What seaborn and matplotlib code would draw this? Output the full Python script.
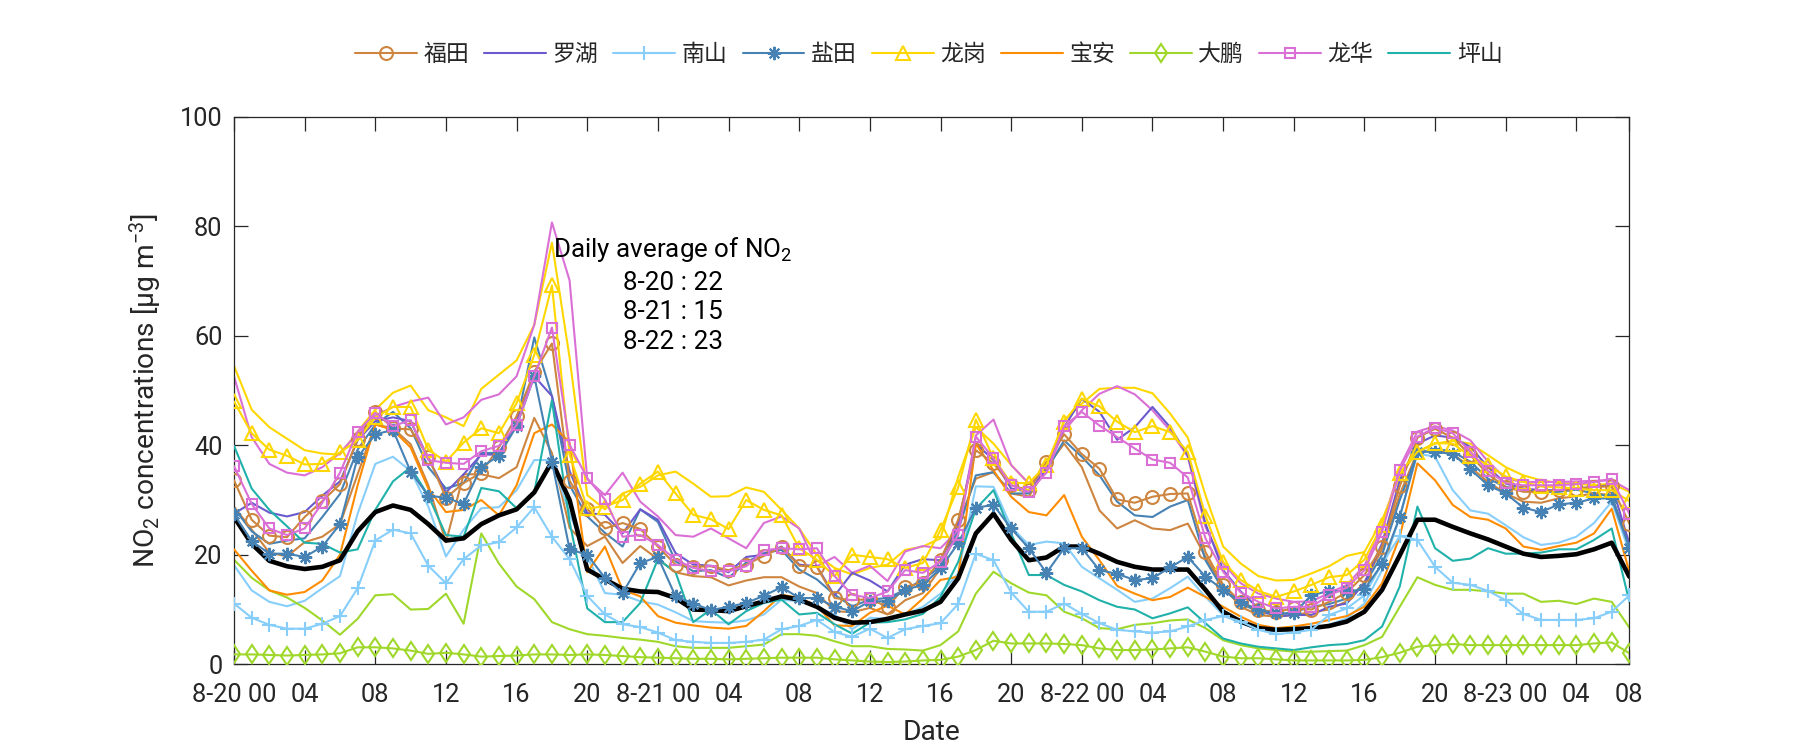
import numpy as np
import matplotlib
matplotlib.use("Agg")
import matplotlib.pyplot as plt
import seaborn as sns

# hourly NO2, 8-20 00 .. 8-23 07 (80 points)
hours = np.arange(80)

futian = [33.6, 26.4, 23.5, 23.2, 26.9, 29.8, 32.9, 41.2, 46.1, 43.1, 42.9, 37.9, 30.4, 33.1, 35.0, 39.6, 45.3, 53.4, 58.6, 33.5, 28.4,
          24.8, 25.8, 24.7, 21.5, 18.2, 17.8, 17.9, 17.2, 18.2, 19.8, 21.4, 18.0, 17.8, 12.1, 11.7, 11.9, 10.5, 14.2, 14.8,
          19.1, 26.4, 39.1, 36.7, 32.7, 31.8, 37.0, 42.0, 38.4, 35.7, 30.1, 29.5, 30.6, 31.1, 31.2, 20.5, 14.5, 11.4, 9.9, 9.6,
          10.2, 10.0, 11.4, 13.1, 16.3, 21.5, 32.5, 41.4, 43.0, 41.4, 38.2, 34.7, 32.4, 31.5, 31.5, 31.8, 32.1, 32.4, 32.5, 25.7]
futian_b = [28.8, 24.6, 20.4, 19.7, 22.3, 23.3, 25.6, 34.7, 43.8, 43.1, 40.2, 32.7, 22.3, 34.7, 34.7, 34.0, 36.0, 45.0, 38.6, 24.9, 21.6,
            23.3, 18.5, 21.6, 19.2, 16.8, 16.1, 15.9, 14.4, 15.3, 15.9, 15.9, 14.2, 13.0, 9.7, 9.5, 10.3, 9.1, 11.7, 13.0,
            17.5, 25.7, 33.9, 35.1, 31.2, 30.6, 36.0, 40.3, 36.0, 28.1, 24.8, 26.3, 24.8, 24.5, 25.7, 19.6, 14.2, 10.5, 9.0, 8.7,
            9.0, 9.5, 10.0, 11.5, 15.0, 21.0, 31.0, 38.8, 39.1, 38.4, 36.0, 33.3, 31.2, 29.7, 29.5, 30.3, 30.7, 31.2, 30.9, 20.9]
luohu = [27.5, 29.5, 27.7, 27.0, 27.8, 30.8, 33.4, 40.9, 44.4, 45.1, 44.4, 37.6, 31.4, 34.7, 38.3, 38.3, 44.4, 52.6, 49.0, 35.3, 27.6,
         27.3, 23.9, 28.3, 26.4, 20.3, 18.2, 18.0, 16.8, 19.6, 20.0, 21.5, 18.2, 17.9, 12.5, 16.7, 15.3, 13.3, 18.2, 19.2,
         19.0, 25.7, 40.3, 37.3, 32.1, 31.5, 35.7, 43.3, 48.5, 46.1, 41.0, 43.3, 47.0, 43.3, 38.2, 25.7, 17.2, 13.3, 10.2, 8.7,
         9.0, 9.0, 10.5, 11.1, 14.8, 22.1, 33.6, 40.3, 41.8, 41.4, 39.7, 36.0, 33.0, 32.1, 31.8, 31.8, 32.1, 32.4, 32.7, 22.0]
nanshan = [11.1, 8.5, 7.2, 6.5, 6.5, 7.4, 8.8, 13.9, 22.6, 24.6, 23.9, 18.0, 14.8, 19.2, 21.7, 22.3, 25.0, 28.7, 23.3, 19.2, 12.5,
           9.1, 7.3, 6.8, 5.8, 4.4, 4.1, 3.9, 3.9, 4.1, 4.5, 6.4, 7.0, 8.1, 5.9, 5.0, 6.5, 4.8, 6.4, 7.0,
           7.5, 11.0, 20.2, 19.0, 13.1, 9.6, 9.6, 11.1, 9.2, 7.5, 6.3, 6.0, 5.8, 6.0, 6.9, 8.1, 8.8, 7.8, 6.3, 5.5,
           5.8, 6.3, 9.0, 10.2, 12.6, 18.4, 23.4, 22.7, 17.8, 14.9, 14.5, 13.4, 11.7, 9.2, 8.1, 8.1, 8.1, 8.4, 9.6, 12.6]
nanshan_b = [18.1, 13.5, 11.4, 10.6, 11.6, 13.9, 16.1, 27.5, 36.6, 37.9, 35.3, 28.8, 19.7, 24.6, 28.5, 28.7, 31.8, 37.3, 37.3, 27.5, 19.7,
             13.0, 12.7, 11.5, 10.9, 9.5, 7.9, 7.7, 7.6, 8.0, 9.1, 11.8, 11.5, 10.5, 9.1, 6.4, 8.5, 8.3, 9.0, 10.5,
             12.9, 16.6, 32.5, 32.4, 25.1, 21.8, 22.4, 22.1, 17.8, 15.7, 13.6, 11.4, 12.0, 13.9, 16.0, 12.3, 9.0, 7.5, 6.3, 6.0,
             6.3, 6.3, 7.2, 8.4, 11.1, 17.2, 26.9, 38.5, 37.9, 31.8, 28.1, 27.5, 25.4, 23.2, 21.8, 22.2, 23.3, 25.8, 29.7, 20.5]
yantian = [27.4, 22.5, 20.2, 20.2, 19.6, 21.5, 25.6, 37.8, 42.0, 42.8, 35.2, 30.8, 30.4, 29.3, 36.0, 38.1, 43.5, 52.6, 37.0, 21.0, 20.0,
           15.8, 13.0, 18.5, 19.6, 12.4, 11.1, 9.9, 10.5, 11.2, 12.5, 14.1, 12.1, 12.1, 10.5, 9.7, 11.5, 11.5, 13.6, 14.5,
           17.5, 22.1, 28.6, 29.1, 24.8, 21.2, 16.7, 21.2, 21.2, 17.2, 16.5, 15.4, 15.7, 17.7, 19.6, 16.0, 13.6, 11.4, 9.9, 9.3,
           9.3, 12.6, 13.4, 13.3, 13.7, 18.3, 26.9, 38.8, 38.8, 38.4, 35.6, 32.7, 31.2, 28.6, 27.8, 29.2, 29.5, 30.3, 30.3, 21.3]
yantian_b = [28.5, 24.3, 22.0, 22.6, 23.0, 26.9, 31.1, 39.2, 43.8, 46.1, 43.1, 36.0, 32.1, 33.1, 38.6, 38.6, 43.8, 59.7, 49.0, 32.7, 27.0,
             24.0, 21.5, 28.3, 26.0, 18.8, 17.0, 17.2, 15.8, 18.6, 20.3, 20.9, 17.3, 15.5, 12.7, 10.6, 11.8, 12.1, 13.6, 15.5,
             17.8, 24.5, 34.5, 35.1, 31.2, 31.2, 35.4, 40.9, 37.9, 34.5, 29.7, 27.2, 26.9, 28.8, 30.0, 19.0, 13.6, 11.1, 9.6, 9.0,
             9.5, 10.5, 11.0, 12.0, 14.5, 20.0, 30.0, 38.5, 39.4, 38.8, 37.0, 33.9, 32.4, 31.8, 31.5, 31.5, 31.9, 31.2, 30.6, 22.0]
longgang = [48.0, 42.2, 39.2, 38.1, 36.5, 36.6, 38.7, 40.9, 45.1, 47.0, 47.0, 39.2, 37.0, 40.5, 43.1, 42.2, 47.7, 56.5, 69.2, 38.3, 28.5,
            28.8, 30.0, 33.0, 35.2, 31.2, 27.3, 26.5, 24.7, 30.0, 28.2, 27.2, 21.2, 19.1, 16.1, 20.0, 19.6, 19.2, 17.6, 18.5,
            24.5, 32.3, 44.7, 37.6, 33.1, 33.1, 36.4, 44.3, 48.5, 47.1, 44.3, 42.4, 43.5, 42.4, 38.8, 27.1, 18.7, 15.4, 13.4, 12.3,
            13.3, 14.5, 15.9, 16.3, 19.1, 25.4, 35.0, 38.8, 40.4, 40.3, 38.0, 36.4, 34.3, 33.3, 32.5, 32.3, 32.1, 31.8, 31.8, 29.8]
longgang_b = [54.5, 46.5, 43.3, 41.2, 39.1, 38.5, 38.3, 42.5, 46.5, 49.6, 50.9, 46.4, 45.1, 43.5, 50.3, 52.9, 55.5, 62.0, 77.0, 56.0, 30.9,
              28.3, 31.2, 32.4, 34.5, 35.2, 33.0, 30.6, 30.7, 32.3, 31.5, 28.2, 24.8, 20.0, 17.6, 16.4, 17.6, 18.2, 20.9, 21.5,
              23.0, 34.2, 43.3, 40.3, 36.4, 33.0, 35.7, 44.6, 47.6, 50.3, 50.5, 50.5, 49.5, 45.8, 41.4, 30.9, 21.5, 18.4, 16.1, 15.3,
              15.4, 16.6, 17.9, 19.8, 20.5, 26.3, 34.5, 38.8, 40.3, 40.8, 40.3, 38.2, 36.0, 34.5, 33.6, 33.1, 33.0, 32.7, 33.0, 31.5]
baoan = [21.0, 17.1, 13.5, 12.7, 13.2, 15.3, 20.0, 32.7, 43.8, 42.8, 39.6, 32.1, 27.8, 28.2, 30.0, 27.2, 32.7, 42.2, 43.8, 40.5, 16.8,
         21.5, 13.6, 12.4, 8.8, 7.6, 7.1, 6.7, 6.5, 7.0, 9.7, 12.7, 12.1, 10.7, 7.1, 7.0, 9.4, 10.7, 9.1, 12.0,
         15.4, 16.0, 40.3, 35.4, 30.6, 27.8, 27.2, 30.9, 23.3, 19.0, 14.3, 12.9, 11.7, 12.3, 14.0, 12.3, 10.5, 8.7, 7.2, 6.6,
         6.9, 7.4, 8.1, 8.8, 10.5, 14.8, 23.3, 36.7, 33.6, 29.1, 26.9, 26.4, 24.8, 21.5, 20.9, 21.6, 22.2, 23.9, 28.4, 16.9]
dapeng = [1.8, 1.8, 1.7, 1.6, 1.7, 1.8, 2.0, 3.1, 3.1, 2.9, 2.5, 1.9, 2.1, 1.8, 1.4, 1.5, 1.6, 1.8, 1.8, 1.7, 1.8,
          1.7, 1.5, 1.3, 1.2, 1.1, 1.0, 1.0, 0.9, 1.0, 1.1, 1.2, 1.2, 1.2, 0.9, 0.7, 0.5, 0.4, 0.5, 0.7,
          0.8, 1.4, 2.6, 4.3, 3.8, 3.8, 3.8, 3.7, 3.5, 2.9, 2.6, 2.6, 2.7, 2.9, 3.1, 2.3, 1.4, 1.1, 1.1, 0.9,
          0.7, 0.7, 0.7, 0.7, 0.8, 1.3, 2.1, 3.2, 3.5, 3.7, 3.5, 3.5, 3.5, 3.5, 3.5, 3.5, 3.5, 3.8, 4.0, 2.0]
dapeng_b = [19.1, 15.8, 13.5, 12.2, 10.3, 8.0, 5.4, 8.3, 12.6, 12.8, 10.0, 10.1, 12.9, 7.4, 23.9, 18.4, 14.2, 11.9, 7.7, 6.4, 5.5,
            5.2, 4.8, 4.5, 4.1, 3.3, 3.0, 3.0, 3.0, 3.3, 3.6, 5.5, 5.5, 5.2, 4.2, 3.3, 3.3, 2.8, 2.7, 2.5,
            3.5, 6.0, 12.9, 16.9, 14.8, 13.1, 12.6, 9.6, 8.4, 6.6, 6.4, 7.2, 7.5, 8.0, 8.2, 6.6, 4.4, 3.5, 2.9, 2.6,
            2.3, 2.3, 2.4, 2.5, 3.5, 5.0, 10.5, 15.9, 14.5, 13.6, 13.6, 13.3, 12.9, 12.9, 11.4, 11.6, 11.0, 12.0, 11.4, 6.7]
longhua = [36.2, 29.3, 24.8, 23.6, 24.8, 29.5, 35.0, 42.5, 45.9, 43.5, 44.6, 37.3, 36.8, 36.6, 38.9, 39.9, 43.7, 52.6, 61.5, 40.1, 34.0,
           30.1, 23.3, 23.6, 21.8, 19.1, 17.6, 17.0, 17.0, 17.9, 20.8, 21.2, 21.0, 21.2, 16.1, 12.7, 12.1, 13.3, 17.2, 16.7,
           18.7, 23.6, 41.6, 37.6, 32.7, 31.5, 35.0, 43.5, 46.1, 43.6, 41.5, 39.4, 37.4, 36.8, 34.1, 23.0, 16.9, 13.1, 11.4, 10.2,
           10.5, 10.5, 12.6, 14.0, 17.2, 24.2, 35.4, 41.6, 43.2, 42.2, 38.8, 35.3, 33.1, 32.7, 32.7, 32.7, 32.9, 33.3, 33.9, 27.5]
longhua_b = [52.6, 41.5, 36.6, 35.0, 34.5, 36.0, 38.6, 42.2, 45.4, 47.0, 48.0, 48.7, 43.8, 45.1, 48.3, 49.3, 52.6, 62.0, 80.7, 70.1, 33.8,
             30.9, 35.0, 29.7, 27.0, 23.6, 23.3, 24.8, 23.0, 21.2, 25.8, 27.0, 24.8, 17.9, 19.6, 16.7, 18.0, 15.2, 20.6, 21.6,
             21.2, 24.5, 41.8, 44.7, 36.4, 33.0, 35.1, 42.7, 46.4, 49.4, 50.8, 49.3, 46.4, 42.7, 37.9, 25.1, 18.4, 14.8, 12.9, 12.0,
             11.4, 11.5, 13.0, 14.5, 18.0, 25.0, 36.0, 42.5, 43.5, 42.7, 40.9, 37.0, 33.9, 33.3, 33.3, 33.3, 33.4, 33.5, 33.6, 31.8]
pingshan = [39.9, 32.1, 28.2, 25.2, 22.2, 22.0, 20.4, 21.0, 28.2, 33.4, 36.0, 30.8, 23.6, 23.3, 32.2, 31.6, 28.5, 31.4, 48.2, 26.0, 10.2,
            7.7, 7.7, 11.2, 19.2, 16.8, 7.7, 10.0, 7.3, 9.7, 11.2, 11.8, 9.1, 9.4, 7.3, 5.6, 7.6, 7.7, 8.2, 9.2,
            12.3, 18.7, 28.4, 31.8, 23.9, 16.3, 16.3, 14.5, 13.3, 11.7, 10.5, 10.0, 8.4, 9.3, 10.4, 7.5, 4.7, 3.8, 3.2, 2.9,
            2.6, 3.1, 3.5, 3.7, 4.4, 6.9, 14.2, 28.8, 21.2, 18.9, 19.3, 21.2, 20.2, 20.2, 20.4, 21.0, 21.0, 22.7, 24.8, 11.4]
average = [26.9, 22.0, 18.9, 17.9, 17.4, 17.8, 19.0, 24.3, 27.8, 29.0, 28.2, 25.6, 22.6, 23.0, 25.6, 27.2, 28.3, 31.4, 37.0, 30.0, 17.3,
           15.5, 13.8, 13.3, 13.2, 12.1, 10.0, 9.9, 9.7, 10.6, 11.5, 12.4, 11.8, 10.5, 8.5, 7.6, 7.7, 8.3, 9.1, 9.8,
           11.4, 15.7, 23.9, 27.5, 22.7, 19.0, 19.5, 21.5, 21.5, 20.2, 18.7, 17.8, 17.3, 17.3, 17.3, 13.6, 9.6, 7.8, 6.6, 6.3,
           6.4, 6.6, 7.0, 7.8, 9.6, 13.6, 19.9, 26.4, 26.4, 25.1, 23.9, 22.8, 21.5, 20.2, 19.6, 19.8, 20.1, 21.0, 22.2, 16.0]

tick_pos = list(range(0, 77, 4)) + [79]
tick_labels = ["8-20 00", "04", "08", "12", "16", "20",
               "8-21 00", "04", "08", "12", "16", "20",
               "8-22 00", "04", "08", "12", "16", "20",
               "8-23 00", "04", "08"]
daily_avg = ["8-20 : 22", "8-21 : 15", "8-22 : 23"]

sns.set_theme(style="ticks")
plt.rcParams["font.family"] = ["Roboto", "Noto Sans CJK SC", "DejaVu Sans"]
plt.rcParams["mathtext.fontset"] = "custom"
plt.rcParams["mathtext.rm"] = "Roboto"
plt.rcParams["mathtext.it"] = "Roboto:italic"
plt.rcParams["mathtext.default"] = "regular"
plt.rcParams["axes.unicode_minus"] = False

dark = "#262626"
fig = plt.figure(figsize=(12, 5), dpi=150)
ax = fig.add_axes([0.13, 0.1143, 0.7752, 0.73])


def draw(y, color, lw=1.0, marker=None, ms=6.0, label=None, z=2):
    sns.lineplot(x=hours, y=y, ax=ax, color=color, linewidth=lw, marker=marker,
                 markersize=ms, markerfacecolor="none", markeredgecolor=color,
                 markeredgewidth=1.0, label=label, legend=False, zorder=z,
                 errorbar=None)
    return ax.lines[-1]


c_ft, c_lh, c_ns, c_yt = "#CD853F", "#6A5ACD", "#87CEFA", "#4682B4"
c_lg, c_ba, c_dp, c_lhua, c_ps = "#FFD700", "#FF8C00", "#9FD82B", "#DA70D6", "#20B2AA"

# second station of each district, no markers
draw(futian_b, c_ft)
draw(nanshan_b, c_ns)
draw(yantian_b, c_yt)
draw(longgang_b, c_lg)
draw(dapeng_b, c_dp)
draw(longhua_b, c_lhua)

handles = [
    draw(futian, c_ft, marker="o", ms=6.2, z=4),
    draw(luohu, c_lh, z=3),
    draw(nanshan, c_ns, marker="+", ms=6.6, z=4),
    draw(yantian, c_yt, marker=(8, 2, 0), ms=6.4, z=4),
    draw(longgang, c_lg, marker="^", ms=6.8, z=4),
    draw(baoan, c_ba, z=3),
    draw(dapeng, c_dp, marker="d", ms=6.4, z=4),
    draw(longhua, c_lhua, marker="s", ms=4.5, z=4),
    draw(pingshan, c_ps, z=3),
]
labels = ["福田", "罗湖", "南山", "盐田", "龙岗", "宝安", "大鹏", "龙华", "坪山"]

draw(average, "black", lw=2.2, z=3.5)

ax.set_xlim(0, 79)
ax.set_ylim(0, 100)
ax.set_xticks(tick_pos)
ax.set_xticklabels(tick_labels)
ax.set_yticks(range(0, 101, 20))
ax.tick_params(direction="in", length=6.8, width=0.6, colors=dark, labelsize=12.2,
               top=True, right=True)
ax.tick_params(axis="x", pad=9)
ax.tick_params(axis="y", pad=5.5)
for s in ax.spines.values():
    s.set_visible(True)
    s.set_linewidth(0.6)
    s.set_color(dark)

ax.set_xlabel("Date", fontsize=13.5, color=dark, va="center")
ax.set_ylabel("NO$_2$ concentrations [$\\mu$g m$^{-3}$]", fontsize=13.5, color=dark, va="center")
ax.xaxis.set_label_coords(0.5, -0.125)
ax.yaxis.set_label_coords(-0.063, 0.5)

ax.text(18.05, 74.4, "Daily average of NO$_2$", fontsize=12.5, color="black", va="baseline")
for i, t in enumerate(daily_avg):
    ax.text(22.0, 68.4 - 5.4 * i, t, fontsize=12.5, color="black", va="baseline")

if ax.get_legend() is not None:
    ax.get_legend().remove()
fig.legend(handles, labels, loc="center", bbox_to_anchor=(0.516, 0.927), ncol=9,
           frameon=False, fontsize=11, handlelength=2.7, handletextpad=0.28,
           columnspacing=0.66, numpoints=1)

fig.savefig("out.png", dpi=150)
